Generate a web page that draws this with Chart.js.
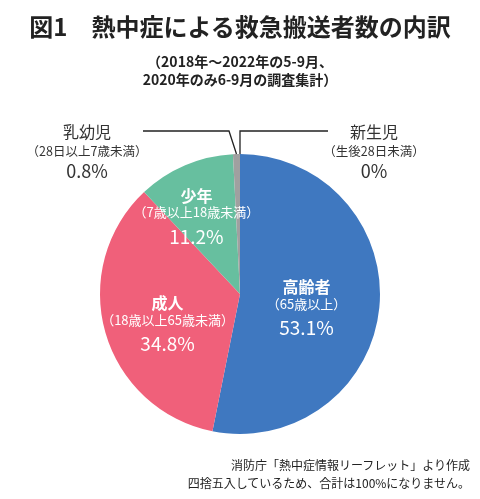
<!DOCTYPE html>
<html lang="ja">
<head>
    <meta charset="UTF-8">
    <meta name="viewport" content="width=device-width, initial-scale=1.0">
    <title>熱中症による救急搬送者数の内訳</title>
    <style>
        body {
            margin: 0;
            background-color: #ffffff;
            color: #222222;
            font-family: "Noto Sans CJK JP", sans-serif;
        }
        .wrap {
            position: relative;
            width: 480px;
            height: 499px;
        }
        .wrap canvas {
            position: absolute;
            left: 0;
            top: 0;
        }
        h1 {
            position: absolute;
            left: 0;
            top: 12px;
            width: 480px;
            margin: 0;
            text-align: center;
            font-size: 24px;
            line-height: 28px;
            font-weight: 700;
            white-space: nowrap;
        }
        .sub {
            position: absolute;
            left: 0;
            top: 52px;
            width: 480px;
            text-align: center;
            font-size: 14px;
            line-height: 18px;
            font-weight: 700;
        }
        .note {
            position: absolute;
            right: 10px;
            top: 456px;
            text-align: right;
            font-size: 12px;
            line-height: 18px;
            white-space: nowrap;
        }
    </style>
</head>
<body>
    <div class="wrap">
        <canvas id="pieChart" width="480" height="499"></canvas>
        <h1>図1　熱中症による救急搬送者数の内訳</h1>
        <div class="sub">（2018年〜2022年の5-9月、<br>2020年のみ6-9月の調査集計）</div>
        <div class="note">消防庁「熱中症情報リーフレット」より作成<br>四捨五入しているため、合計は100%になりません。</div>
    </div>
    <script src="https://cdn.jsdelivr.net/npm/chart.js"></script>
    <script>
        const categories = ['高齢者', '成人', '少年', '乳幼児', '新生児'];
        const ageRanges = ['（65歳以上）', '（18歳以上65歳未満）', '（7歳以上18歳未満）', '（28日以上7歳未満）', '（生後28日未満）'];
        const shares = [53.1, 34.8, 11.2, 0.8, 0];
        const sliceColors = ['#3f78c0', '#f0607a', '#67bf9f', '#a0a0a0', '#a0a0a0'];

        // inside labels: offset from the slice middle (radius fraction, extra turn in degrees)
        // outside labels: text spot plus a leader line that bends at elbowX
        const labelPlace = [
            { inside: true, r: 0.48, turn: 2.8 },
            { inside: true, r: 0.55, turn: -3.9 },
            { inside: true, r: 0.66, turn: -5.1 },
            { inside: false, x: 87, y: 151, elbowX: 229, lineEnd: 143, lineY: 131 },
            { inside: false, x: 374, y: 151, elbowX: 240, lineEnd: 328, lineY: 131 }
        ];

        const fontFamily = '"Noto Sans CJK JP", sans-serif';

        const sliceLabels = {
            id: 'sliceLabels',
            afterDatasetsDraw(chart) {
                const ctx = chart.ctx;
                const arcs = chart.getDatasetMeta(0).data;
                ctx.save();
                ctx.textAlign = 'center';
                ctx.textBaseline = 'middle';
                arcs.forEach((arc, i) => {
                    const p = labelPlace[i];
                    const { x, y, startAngle, endAngle, outerRadius } =
                        arc.getProps(['x', 'y', 'startAngle', 'endAngle', 'outerRadius'], true);
                    const mid = (startAngle + endAngle) / 2;
                    let tx, ty, color, nameFont, rangeFont, pctFont, dyName, dyPct;
                    if (p.inside) {
                        const a = mid + p.turn * Math.PI / 180;
                        tx = x + Math.cos(a) * outerRadius * p.r;
                        ty = y + Math.sin(a) * outerRadius * p.r;
                        color = '#ffffff';
                        nameFont = 'bold 16px ' + fontFamily;
                        rangeFont = '13px ' + fontFamily;
                        pctFont = '19px ' + fontFamily;
                        dyName = -17;
                        dyPct = 24;
                    } else {
                        const sx = x + Math.cos(mid) * outerRadius;
                        const sy = y + Math.sin(mid) * outerRadius;
                        ctx.beginPath();
                        ctx.moveTo(sx, sy);
                        ctx.lineTo(p.elbowX, p.lineY);
                        ctx.lineTo(p.lineEnd, p.lineY);
                        ctx.strokeStyle = '#222222';
                        ctx.lineWidth = 1.3;
                        ctx.stroke();
                        tx = p.x;
                        ty = p.y;
                        color = '#333333';
                        nameFont = '16px ' + fontFamily;
                        rangeFont = '12.5px ' + fontFamily;
                        pctFont = '18px ' + fontFamily;
                        dyName = -19;
                        dyPct = 20;
                    }
                    ctx.fillStyle = color;
                    ctx.font = nameFont;
                    ctx.fillText(categories[i], tx, ty + dyName);
                    ctx.font = rangeFont;
                    ctx.fillText(ageRanges[i], tx, ty);
                    ctx.font = pctFont;
                    ctx.fillText(shares[i] + '%', tx, ty + dyPct);
                });
                ctx.restore();
            }
        };

        const ctx = document.getElementById('pieChart').getContext('2d');
        const pieChart = new Chart(ctx, {
            type: 'pie',
            data: {
                labels: categories,
                datasets: [{
                    data: shares,
                    backgroundColor: sliceColors,
                    borderWidth: 0
                }]
            },
            options: {
                responsive: false,
                animation: false,
                layout: {
                    padding: { top: 154, bottom: 65, left: 100, right: 100 }
                },
                plugins: {
                    legend: { display: false },
                    tooltip: { enabled: false }
                }
            },
            plugins: [sliceLabels]
        });
    </script>
</body>
</html>
